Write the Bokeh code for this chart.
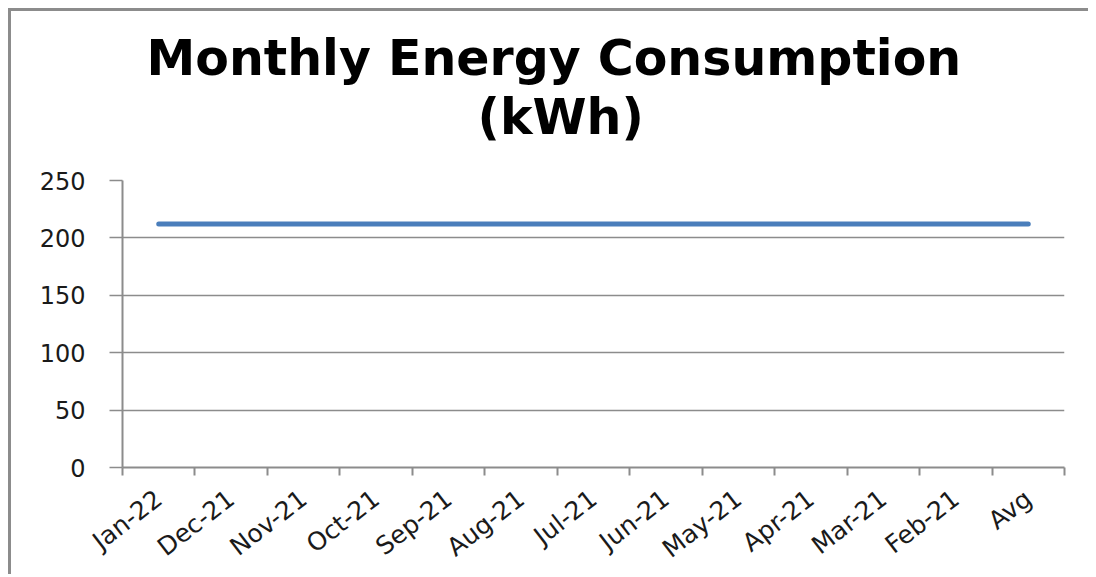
from math import pi
from bokeh.plotting import figure
from bokeh.models import Range1d, FixedTicker, Title
from bokeh.embed import file_html
from bokeh.resources import INLINE

# ---- data ----
months = ["Jan-22", "Dec-21", "Nov-21", "Oct-21", "Sep-21", "Aug-21", "Jul-21",
          "Jun-21", "May-21", "Apr-21", "Mar-21", "Feb-21", "Avg"]
consumption = [212, 212, 212, 212, 212, 212, 212, 212, 212, 212, 212, 212, 212]
y_ticks = [0, 50, 100, 150, 200, 250]
title_line1 = "Monthly Energy Consumption"
title_line2 = "(kWh)"

n = len(months)
centers = [i + 0.5 for i in range(n)]
bounds = [float(i) for i in range(n + 1)]

GRAY = "#8c8c8c"
FONT = "DejaVu Sans"

p = figure(width=1080, height=566, output_backend="svg", toolbar_location=None,
           x_range=Range1d(0, n), y_range=Range1d(y_ticks[0], y_ticks[-1]),
           min_border_left=111, min_border_right=27,
           min_border_top=169, min_border_bottom=109,
           background_fill_color="white", border_fill_color="white")
p.outline_line_color = None
p.styles = {"margin-left": "8px", "margin-top": "8px",
            "border-left": "3px solid #8c8c8c", "border-top": "3px solid #8c8c8c"}

p.line(centers, consumption, line_color="#4a7ebb", line_width=5, line_cap="round")

# x axis: labels at category centres, tick marks at category boundaries
xa = p.xaxis[0]
xa.ticker = FixedTicker(ticks=centers, minor_ticks=bounds)
xa.major_label_overrides = {c: m for c, m in zip(centers, months)}
xa.major_label_orientation = 0.66
xa.major_tick_out = 0
xa.major_tick_in = 0
xa.minor_tick_out = 8
xa.minor_tick_in = 0
xa.minor_tick_line_color = GRAY
xa.minor_tick_line_width = 2
xa.axis_line_color = GRAY
xa.axis_line_width = 2
xa.major_label_standoff = 20
xa.major_label_text_font = FONT
xa.major_label_text_font_size = "25px"
xa.major_label_text_color = "#1a1a1a"

ya = p.yaxis[0]
ya.ticker = FixedTicker(ticks=y_ticks)
ya.major_tick_out = 13
ya.major_tick_in = 0
ya.minor_tick_line_color = None
ya.major_tick_line_color = GRAY
ya.major_tick_line_width = 1.5
ya.axis_line_color = GRAY
ya.axis_line_width = 2
ya.major_label_standoff = 24
ya.major_label_text_font = FONT
ya.major_label_text_font_size = "24px"
ya.major_label_text_color = "#1a1a1a"

p.xgrid.grid_line_color = None
p.ygrid.grid_line_color = GRAY
p.ygrid.grid_line_width = 1.5

# two-line title, inner line added first
p.add_layout(Title(text=title_line2, align="left", offset=355, standoff=70,
                   text_font=FONT, text_font_style="bold",
                   text_font_size="49px", text_color="black"), "above")
p.add_layout(Title(text=title_line1, align="left", offset=24, standoff=-70,
                   text_font=FONT, text_font_style="bold",
                   text_font_size="49px", text_color="black"), "above")

open("out.html", "w").write(file_html(p, INLINE))
